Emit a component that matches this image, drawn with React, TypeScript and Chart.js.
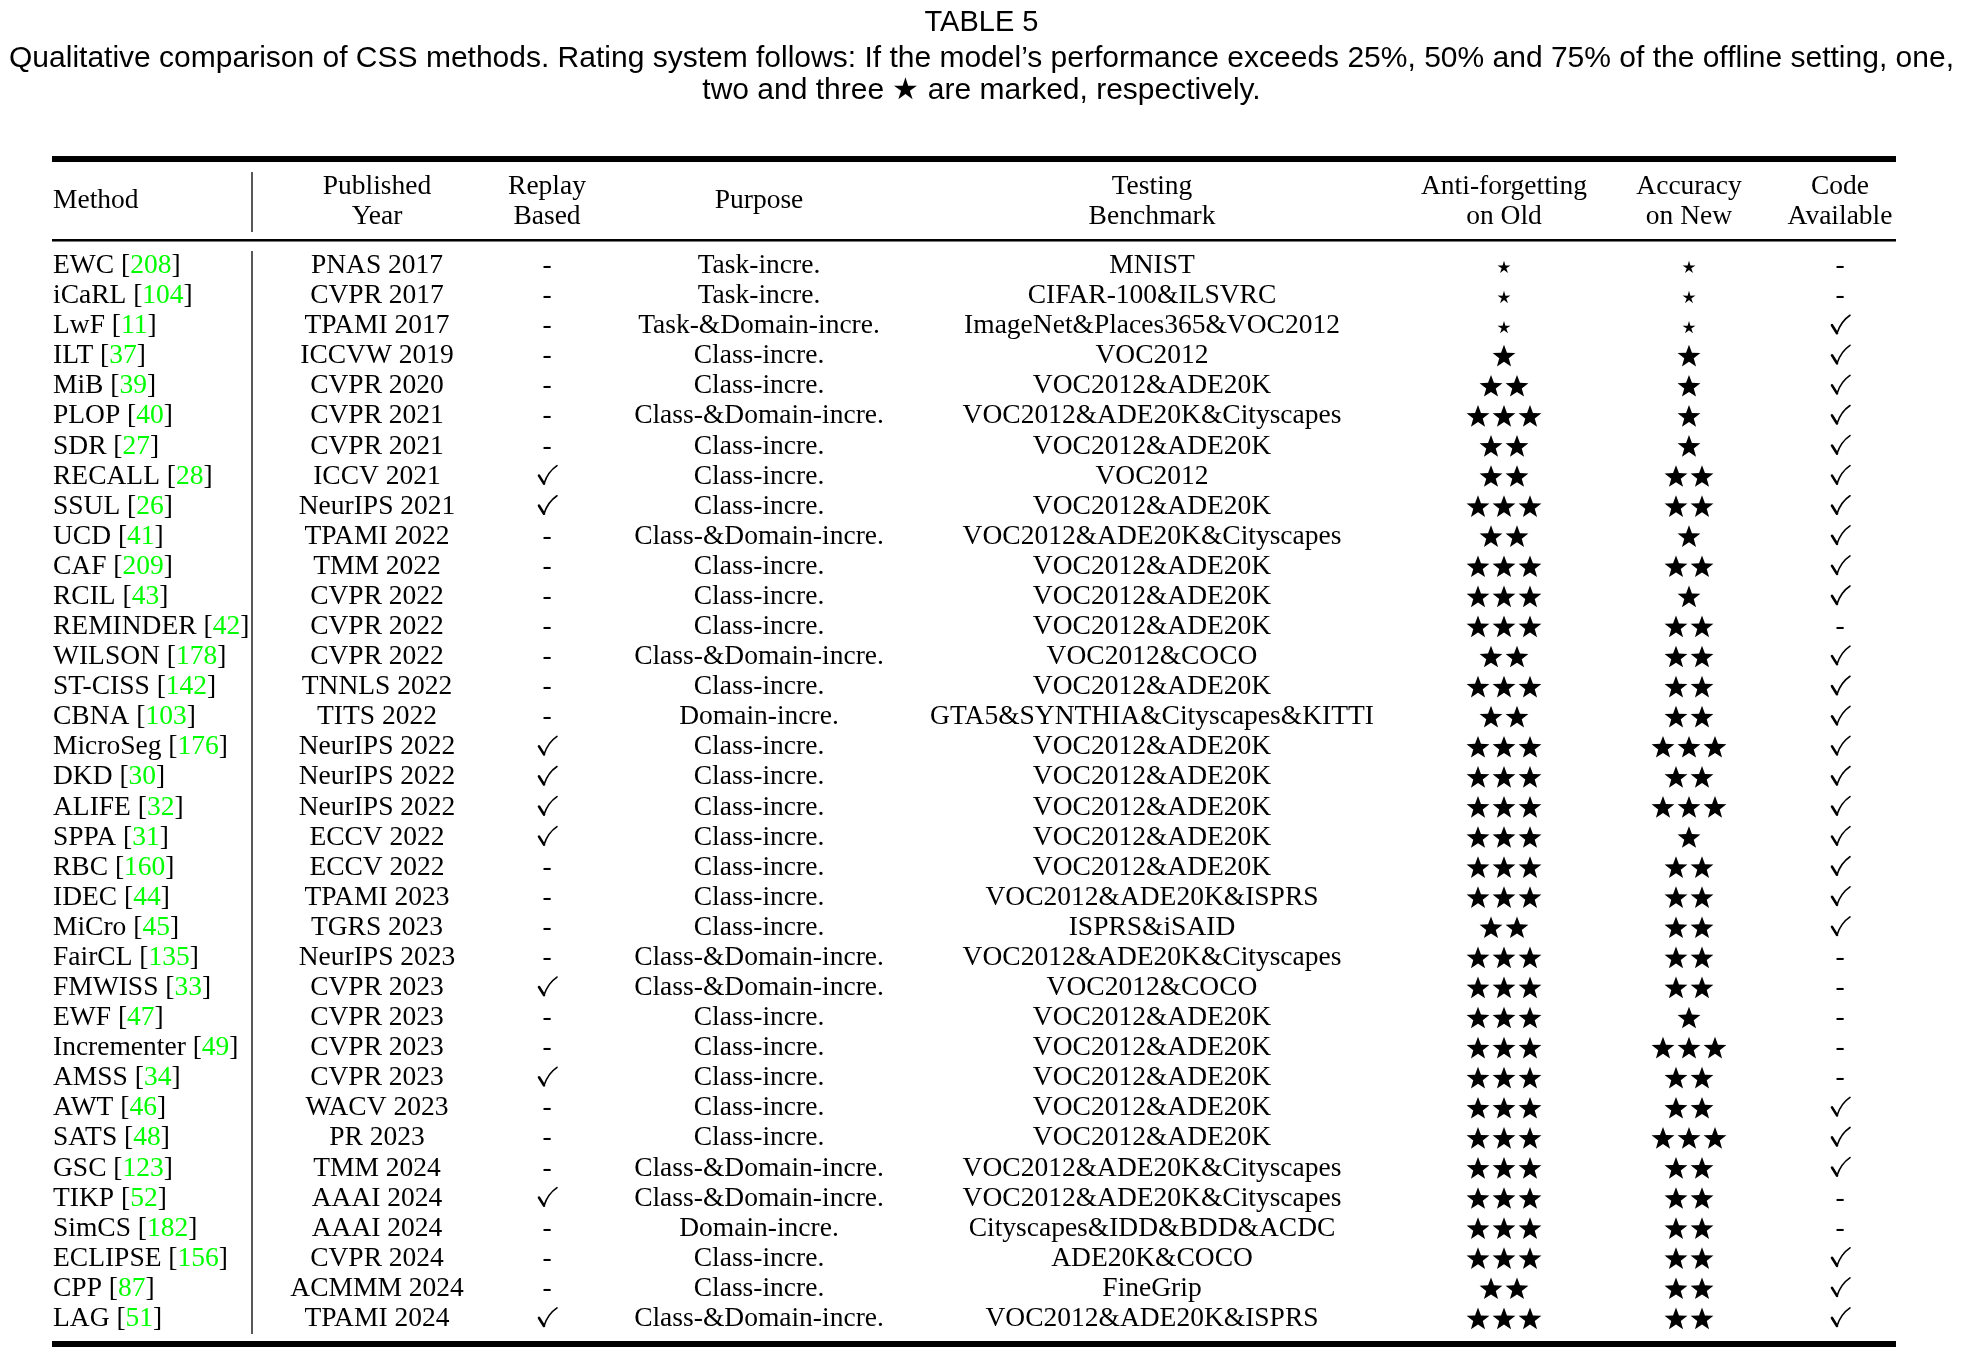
import { useEffect, useRef } from "react";
import { Chart, registerables } from "chart.js";

Chart.register(...registerables);

const W = 1963;
const H = 1360;

const tableTitle = "TABLE 5";
const captionLines = [
  "Qualitative comparison of CSS methods. Rating system follows: If the model\u2019s performance exceeds 25%, 50% and 75% of the offline setting, one,",
  "two and three \u2605 are marked, respectively.",
];

const headers = [
  ["Method"],
  ["Published", "Year"],
  ["Replay", "Based"],
  ["Purpose"],
  ["Testing", "Benchmark"],
  ["Anti-forgetting", "on Old"],
  ["Accuracy", "on New"],
  ["Code", "Available"],
];

const methodNames = [
  "EWC", "iCaRL", "LwF", "ILT", "MiB", "PLOP", "SDR", "RECALL", "SSUL", "UCD",
  "CAF", "RCIL", "REMINDER", "WILSON", "ST-CISS", "CBNA", "MicroSeg", "DKD", "ALIFE", "SPPA",
  "RBC", "IDEC", "MiCro", "FairCL", "FMWISS", "EWF", "Incrementer", "AMSS", "AWT", "SATS",
  "GSC", "TIKP", "SimCS", "ECLIPSE", "CPP", "LAG",
];

const citations = [
  "208", "104", "11", "37", "39", "40", "27", "28", "26", "41",
  "209", "43", "42", "178", "142", "103", "176", "30", "32", "31",
  "160", "44", "45", "135", "33", "47", "49", "34", "46", "48",
  "123", "52", "182", "156", "87", "51",
];

const venues = [
  "PNAS 2017", "CVPR 2017", "TPAMI 2017", "ICCVW 2019", "CVPR 2020", "CVPR 2021", "CVPR 2021", "ICCV 2021", "NeurIPS 2021", "TPAMI 2022",
  "TMM 2022", "CVPR 2022", "CVPR 2022", "CVPR 2022", "TNNLS 2022", "TITS 2022", "NeurIPS 2022", "NeurIPS 2022", "NeurIPS 2022", "ECCV 2022",
  "ECCV 2022", "TPAMI 2023", "TGRS 2023", "NeurIPS 2023", "CVPR 2023", "CVPR 2023", "CVPR 2023", "CVPR 2023", "WACV 2023", "PR 2023",
  "TMM 2024", "AAAI 2024", "AAAI 2024", "CVPR 2024", "ACMMM 2024", "TPAMI 2024",
];

// 1 = replay based (check mark), 0 = not (dash)
const replayBased = [
  0, 0, 0, 0, 0, 0, 0, 1, 1, 0,
  0, 0, 0, 0, 0, 0, 1, 1, 1, 1,
  0, 0, 0, 0, 1, 0, 0, 1, 0, 0,
  0, 1, 0, 0, 0, 1,
];

const purposes = [
  "Task-incre.", "Task-incre.", "Task-&Domain-incre.", "Class-incre.", "Class-incre.", "Class-&Domain-incre.", "Class-incre.", "Class-incre.", "Class-incre.", "Class-&Domain-incre.",
  "Class-incre.", "Class-incre.", "Class-incre.", "Class-&Domain-incre.", "Class-incre.", "Domain-incre.", "Class-incre.", "Class-incre.", "Class-incre.", "Class-incre.",
  "Class-incre.", "Class-incre.", "Class-incre.", "Class-&Domain-incre.", "Class-&Domain-incre.", "Class-incre.", "Class-incre.", "Class-incre.", "Class-incre.", "Class-incre.",
  "Class-&Domain-incre.", "Class-&Domain-incre.", "Domain-incre.", "Class-incre.", "Class-incre.", "Class-&Domain-incre.",
];

const benchmarks = [
  "MNIST", "CIFAR-100&ILSVRC", "ImageNet&Places365&VOC2012", "VOC2012", "VOC2012&ADE20K", "VOC2012&ADE20K&Cityscapes", "VOC2012&ADE20K", "VOC2012", "VOC2012&ADE20K", "VOC2012&ADE20K&Cityscapes",
  "VOC2012&ADE20K", "VOC2012&ADE20K", "VOC2012&ADE20K", "VOC2012&COCO", "VOC2012&ADE20K", "GTA5&SYNTHIA&Cityscapes&KITTI", "VOC2012&ADE20K", "VOC2012&ADE20K", "VOC2012&ADE20K", "VOC2012&ADE20K",
  "VOC2012&ADE20K", "VOC2012&ADE20K&ISPRS", "ISPRS&iSAID", "VOC2012&ADE20K&Cityscapes", "VOC2012&COCO", "VOC2012&ADE20K", "VOC2012&ADE20K", "VOC2012&ADE20K", "VOC2012&ADE20K", "VOC2012&ADE20K",
  "VOC2012&ADE20K&Cityscapes", "VOC2012&ADE20K&Cityscapes", "Cityscapes&IDD&BDD&ACDC", "ADE20K&COCO", "FineGrip", "VOC2012&ADE20K&ISPRS",
];

// number of stars; 0 = small star (below 25%)
const antiForgetting = [
  0, 0, 0, 1, 2, 3, 2, 2, 3, 2,
  3, 3, 3, 2, 3, 2, 3, 3, 3, 3,
  3, 3, 2, 3, 3, 3, 3, 3, 3, 3,
  3, 3, 3, 3, 2, 3,
];

const accuracyNew = [
  0, 0, 0, 1, 1, 1, 1, 2, 2, 1,
  2, 1, 2, 2, 2, 2, 3, 2, 3, 1,
  2, 2, 2, 2, 2, 1, 3, 2, 2, 3,
  2, 2, 2, 2, 2, 2,
];

// 1 = code available (check mark), 0 = dash
const codeAvailable = [
  0, 0, 1, 1, 1, 1, 1, 1, 1, 1,
  1, 1, 0, 1, 1, 1, 1, 1, 1, 1,
  1, 1, 1, 0, 0, 0, 0, 0, 1, 1,
  1, 0, 0, 1, 1, 1,
];

// column anchors on the x scale (layout, not data)
const COL = {
  left: 52,
  right: 1896,
  method: 53,
  sep: 252,
  year: 377,
  replay: 547,
  purpose: 759,
  bench: 1152,
  anti: 1504,
  acc: 1689,
  code: 1840,
};

const SERIF = '"Liberation Serif", "Times New Roman", serif';
const SANS = '"Liberation Sans", Arial, Helvetica, sans-serif';
const BODY_SIZE = 27.5;
const CITE_GREEN = "#00ff00";

function drawStar(ctx: CanvasRenderingContext2D, cx: number, cy: number, R: number, r: number) {
  ctx.beginPath();
  for (let i = 0; i < 10; i++) {
    const a = -Math.PI / 2 + (i * Math.PI) / 5;
    const rad = i % 2 === 0 ? R : r;
    const px = cx + rad * Math.cos(a);
    const py = cy + rad * Math.sin(a);
    if (i === 0) ctx.moveTo(px, py);
    else ctx.lineTo(px, py);
  }
  ctx.closePath();
  ctx.fill();
}

function drawRating(ctx: CanvasRenderingContext2D, cx: number, cy: number, n: number) {
  ctx.fillStyle = "#000";
  if (n === 0) {
    drawStar(ctx, cx, cy + 3.5, 6.8, 2.4);
    return;
  }
  const gap = 26;
  const start = cx - ((n - 1) * gap) / 2;
  for (let k = 0; k < n; k++) drawStar(ctx, start + k * gap, cy + 2.5, 12, 5);
}

function drawCheck(ctx: CanvasRenderingContext2D, cx: number, cy: number) {
  ctx.save();
  ctx.strokeStyle = "#000";
  ctx.lineCap = "round";
  ctx.lineJoin = "round";
  ctx.lineWidth = 2.6;
  ctx.beginPath();
  ctx.moveTo(cx - 8, cy + 1);
  ctx.lineTo(cx - 3, cy + 9);
  ctx.stroke();
  ctx.lineWidth = 1.6;
  ctx.beginPath();
  ctx.moveTo(cx - 3, cy + 9);
  ctx.quadraticCurveTo(cx + 1, cy - 3, cx + 10, cy - 9);
  ctx.stroke();
  ctx.restore();
}

function drawDash(ctx: CanvasRenderingContext2D, cx: number, baseline: number) {
  ctx.textAlign = "center";
  ctx.fillText("-", cx, baseline);
}

const tablePlugin = {
  id: "tableCells",
  afterDraw(chart: any) {
    const ctx: CanvasRenderingContext2D = chart.ctx;
    const xs = chart.scales.x;
    const ys = chart.scales.y;
    const area = chart.chartArea;
    const X = (v: number) => xs.getPixelForValue(v);
    ctx.save();
    ctx.fillStyle = "#000";
    ctx.strokeStyle = "#000";

    // rules
    const l = X(COL.left);
    const r = X(COL.right);
    ctx.fillRect(l, area.top - 93, r - l, 6);
    ctx.fillRect(l, area.top - 10, r - l, 2.5);
    ctx.fillRect(l, area.bottom + 9, r - l, 6);

    // vertical separator
    ctx.lineWidth = 1.3;
    ctx.beginPath();
    ctx.moveTo(X(COL.sep), area.top - 77);
    ctx.lineTo(X(COL.sep), area.top - 17);
    ctx.moveTo(X(COL.sep), area.top + 2);
    ctx.lineTo(X(COL.sep), area.bottom + 2);
    ctx.stroke();

    // header
    ctx.font = `${BODY_SIZE}px ${SERIF}`;
    ctx.textBaseline = "alphabetic";
    const headerX = [COL.method, COL.year, COL.replay, COL.purpose, COL.bench, COL.anti, COL.acc, COL.code];
    headers.forEach((h, i) => {
      ctx.textAlign = i === 0 ? "left" : "center";
      if (h.length === 1) {
        ctx.fillText(h[0], X(headerX[i]), area.top - 41);
      } else {
        ctx.fillText(h[0], X(headerX[i]), area.top - 55.5);
        ctx.fillText(h[1], X(headerX[i]), area.top - 25);
      }
    });

    // rows
    methodNames.forEach((name, i) => {
      const cy = ys.getPixelForValue(i);
      const base = cy + 9;
      ctx.font = `${BODY_SIZE}px ${SERIF}`;
      ctx.fillStyle = "#000";
      // method with citation
      ctx.textAlign = "left";
      let x = X(COL.method);
      const p1 = name + " [";
      ctx.fillText(p1, x, base);
      x += ctx.measureText(p1).width;
      ctx.fillStyle = CITE_GREEN;
      ctx.fillText(citations[i], x, base);
      x += ctx.measureText(citations[i]).width;
      ctx.fillStyle = "#000";
      ctx.fillText("]", x, base);

      ctx.textAlign = "center";
      ctx.fillText(venues[i], X(COL.year), base);
      if (replayBased[i]) drawCheck(ctx, X(COL.replay), cy);
      else drawDash(ctx, X(COL.replay), base);
      ctx.textAlign = "center";
      ctx.fillText(purposes[i], X(COL.purpose), base);
      ctx.fillText(benchmarks[i], X(COL.bench), base);
      drawRating(ctx, X(COL.anti), cy, antiForgetting[i]);
      drawRating(ctx, X(COL.acc), cy, accuracyNew[i]);
      ctx.fillStyle = "#000";
      if (codeAvailable[i]) drawCheck(ctx, X(COL.code), cy);
      else drawDash(ctx, X(COL.code), base);
    });
    ctx.restore();
  },
};

export default function App() {
  const ref = useRef<HTMLCanvasElement | null>(null);
  useEffect(() => {
    if (!ref.current) return;
    const chart = new Chart(ref.current, {
      type: "scatter",
      data: { datasets: [] },
      options: {
        animation: false,
        responsive: false,
        devicePixelRatio: 1,
        events: [],
        layout: { padding: { top: 0, bottom: 28, left: 0, right: 0 } },
        plugins: {
          legend: { display: false },
          tooltip: { enabled: false },
          title: {
            display: true,
            text: tableTitle,
            color: "#000",
            font: { family: SANS, size: 29, weight: "normal", lineHeight: 1.2 },
            padding: { top: 6, bottom: 2 },
          },
          subtitle: {
            display: true,
            text: captionLines,
            color: "#000",
            font: { family: SANS, size: 30, weight: "normal", lineHeight: 1.067 },
            padding: { top: 0, bottom: 142.2 },
          },
        },
        scales: {
          x: { type: "linear", min: 0, max: W, display: false },
          y: { type: "category", labels: methodNames, offset: true, display: false },
        },
      },
      plugins: [tablePlugin],
    } as any);
    return () => chart.destroy();
  }, []);
  return (
    <div style={{ position: "absolute", left: 0, top: 0, width: W, height: H, background: "#fff" }}>
      <canvas ref={ref} width={W} height={H} style={{ width: W, height: H, display: "block" }} />
    </div>
  );
}
